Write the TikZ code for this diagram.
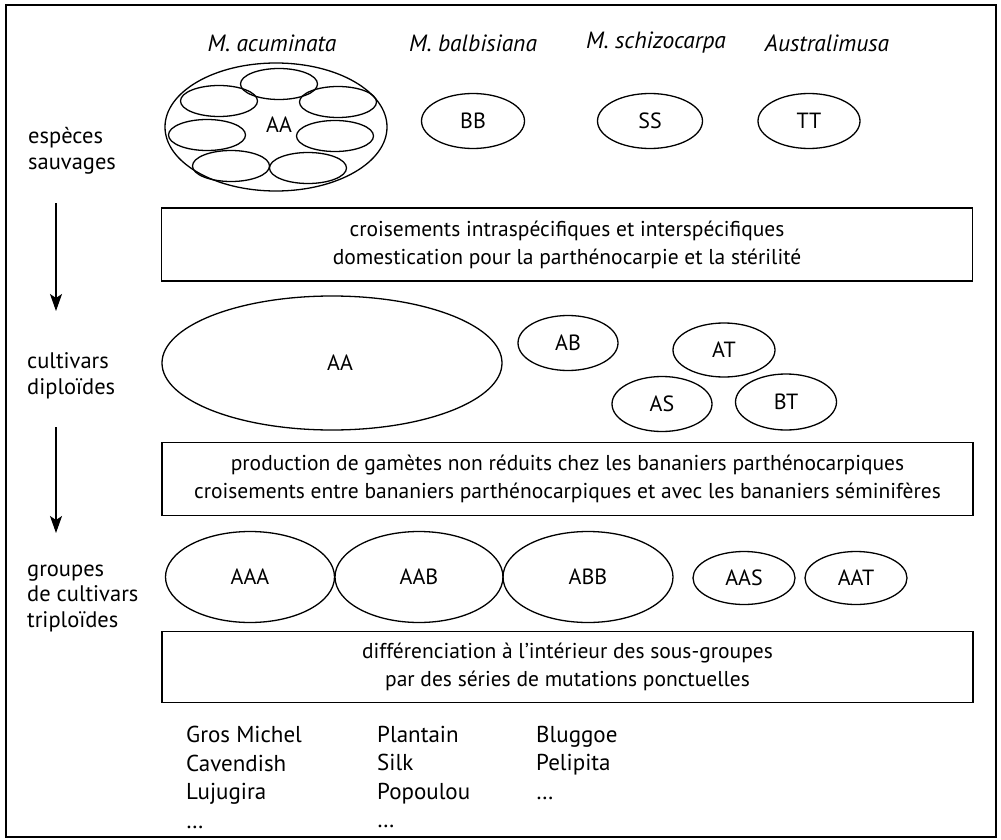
\documentclass[tikz,border=0pt]{standalone}
\usepackage{fontspec}
\setmainfont{PT Sans}
\usetikzlibrary{shapes.geometric,arrows.meta}
\begin{document}
\begin{tikzpicture}[x=1pt,y=-1pt,
  every node/.style={font=\fontsize{22}{28}\selectfont, inner sep=0pt},
  ell/.style={draw, ellipse, line width=1.3pt, inner sep=0pt},
  sub/.style={ell, minimum width=77pt, minimum height=31pt},
  procbox/.style={draw, line width=1.3pt, minimum width=811pt, minimum height=73pt, align=center, font=\fontsize{21.5}{28}\selectfont},
  sidelabel/.style={align=left, anchor=west, font=\fontsize{22.5}{25.5}\selectfont},
  species/.style={font=\fontsize{23.5}{25}\selectfont\itshape},
  listcol/.style={align=left, anchor=north west, font=\fontsize{23}{28.5}\selectfont},
  flow/.style={-{Stealth[length=17pt,width=12pt,inset=4pt]}, line width=1.1pt}
]
\useasboundingbox (0,0) rectangle (1001,840);
\node[draw, line width=1.6pt, minimum width=990pt, minimum height=832pt] (frame) at (501,421) {};

% species names
\node[species] (nacu) at (272,43) {M. acuminata};
\node[species] (nbal) at (473,43) {M. balbisiana};
\node[species] (nsch) at (656,43) {M. schizocarpa};
\node[species] (naus) at (827,43) {Australimusa};

% wild species
\node[ell, minimum width=222pt, minimum height=128pt] (wAA) at (276,127) {};
\node[sub] (s1) at (279,84) {};
\node[sub] (s2) at (219,101) {};
\node[sub] (s3) at (338,102) {};
\node[sub] (s4) at (207,135) {};
\node[sub] (s5) at (335,136) {};
\node[sub] (s6) at (231,166) {};
\node[sub] (s7) at (308,168) {};
\node (tAA) at (279,125) {AA};
\node[ell, minimum width=103pt, minimum height=55pt] (wBB) at (473,121) {BB};
\node[ell, minimum width=105pt, minimum height=55pt] (wSS) at (650,121) {SS};
\node[ell, minimum width=102pt, minimum height=55pt] (wTT) at (809,121) {TT};

% side labels
\node[sidelabel] (l1) at (28,151) {espèces\\sauvages};
\node[sidelabel] (l2) at (27,376) {cultivars\\diploïdes};
\node[sidelabel] (l3) at (27,598) {groupes\\de cultivars\\triploïdes};

% arrows
\coordinate (a1s) at (56,203);
\coordinate (a1e) at (56,311);
\coordinate (a2s) at (56,427);
\coordinate (a2e) at (56,533);
\draw[flow] (a1s) -- (a1e);
\draw[flow] (a2s) -- (a2e);

% process boxes
\node[procbox] (b1) at (567,244.5) {croisements intraspécifiques et interspécifiques\\domestication pour la parthénocarpie et la stérilité};
\node[procbox] (b2) at (567.5,479) {production de gamètes non réduits chez les bananiers parthénocarpiques\\croisements entre bananiers parthénocarpiques et avec les bananiers séminifères};
\node[procbox, minimum height=71pt] (b3) at (567.5,667) {différenciation à l’intérieur des sous-groupes\\par des séries de mutations ponctuelles};

% diploid cultivars
\node[ell, minimum width=340pt, minimum height=134pt] (dAA) at (332,363) {\hspace*{16pt}AA};
\node[ell, minimum width=100pt, minimum height=55pt] (dAB) at (568,343) {AB};
\node[ell, minimum width=102pt, minimum height=54pt] (dAT) at (724,350) {AT};
\node[ell, minimum width=100pt, minimum height=55pt] (dAS) at (662,404) {AS};
\node[ell, minimum width=101pt, minimum height=56pt] (dBT) at (786,402) {BT};

% triploid groups
\node[ell, minimum width=169pt, minimum height=91pt] (tAAA) at (250,577) {AAA};
\node[ell, minimum width=168pt, minimum height=91pt] (tAAB) at (419,577) {AAB};
\node[ell, minimum width=170pt, minimum height=91pt] (tABB) at (588,577) {ABB};
\node[ell, minimum width=102pt, minimum height=53pt] (tAAS) at (744,578) {AAS};
\node[ell, minimum width=102pt, minimum height=53pt] (tAAT) at (856,578) {AAT};

% cultivar lists
\node[listcol] (c1) at (186,726) {Gros Michel\\Cavendish\\Lujugira\\\dots};
\node[listcol] (c2) at (377,726) {Plantain\\Silk\\Popoulou\\\dots};
\node[listcol] (c3) at (536,726) {Bluggoe\\Pelipita\\\dots};
\end{tikzpicture}
\end{document}
